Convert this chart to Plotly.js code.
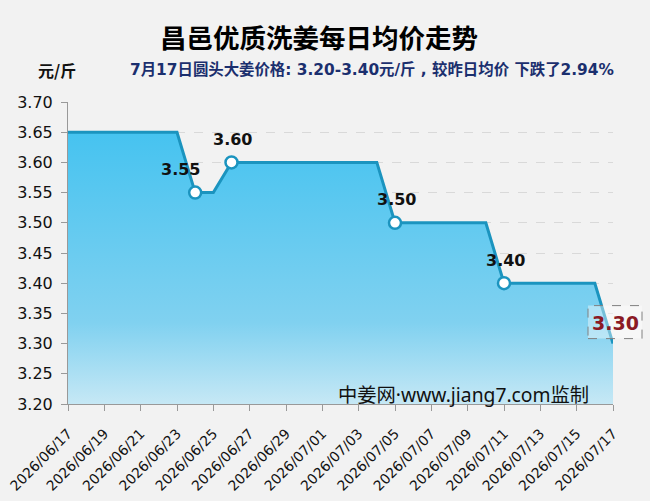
<!DOCTYPE html>
<html><head><meta charset="utf-8">
<script src="https://cdn.plot.ly/plotly-3.0.1.min.js"></script>
<style>html,body{margin:0;padding:0;background:#f2f2f2;}#chart{width:650px;height:501px;}</style>
</head><body><div id="chart"></div>
<script>
const dates = ['2026-06-17','2026-06-18','2026-06-19','2026-06-20','2026-06-21','2026-06-22','2026-06-23','2026-06-24','2026-06-25','2026-06-26','2026-06-27','2026-06-28','2026-06-29','2026-06-30','2026-07-01','2026-07-02','2026-07-03','2026-07-04','2026-07-05','2026-07-06','2026-07-07','2026-07-08','2026-07-09','2026-07-10','2026-07-11','2026-07-12','2026-07-13','2026-07-14','2026-07-15','2026-07-16','2026-07-17'];
const prices = [3.65,3.65,3.65,3.65,3.65,3.65,3.65,3.55,3.55,3.60,3.60,3.60,3.60,3.60,3.60,3.60,3.60,3.60,3.50,3.50,3.50,3.50,3.50,3.50,3.40,3.40,3.40,3.40,3.40,3.40,3.30];
const titleText = '昌邑优质洗姜每日均价走势';
const unitText = '元/斤';
const subtitleText = '7月17日圆头大姜价格: 3.20-3.40元/斤 , 较昨日均价 下跌了2.94%';
const watermarkText = '中姜网·www.jiang7.com监制';

const n = prices.length;
const mx = [], my = [];
for (let i = 1; i < n - 1; i++) {
  if (prices[i] !== prices[i-1]) { mx.push(dates[i]); my.push(prices[i]); }
}

const cjk = '"Noto Sans CJK SC", "DejaVu Sans", sans-serif';
const latinFirst = '"DejaVu Sans", "Noto Sans CJK SC", sans-serif';
const annotations = [];
mx.forEach((d, i) => {
  const dip = i === 0;
  annotations.push({x: d, y: my[i], xref: 'x', yref: 'y', text: my[i].toFixed(2), showarrow: false,
    yshift: 23, xshift: dip ? -15 : 1,
    font: {family: '"DejaVu Sans", sans-serif', size: 16, color: '#111', weight: 'bold'}});
});
annotations.push({x: dates[n-1], y: prices[n-1], xref: 'x', yref: 'y', text: prices[n-1].toFixed(2), showarrow: false,
  xshift: 2, yshift: 21,
  font: {family: '"DejaVu Sans", sans-serif', size: 19, color: '#8b1a24', weight: 'bold'}});

const L = 68, R = 37, T = 102, B = 97, W = 650, H = 501;
function pxAnn(px, py, text, font) {
  annotations.push({x: (px - L) / (W - L - R), y: 1 - (py - T) / (H - T - B), xref: 'paper', yref: 'paper',
    xanchor: 'center', yanchor: 'middle', text: text, showarrow: false, font: font});
}
pxAnn(319, 36, titleText, {family: cjk, size: 26.5, color: '#000', weight: 'bold'});
pxAnn(57, 70, unitText, {family: cjk, size: 16, color: '#111', weight: 'bold'});
pxAnn(372, 70, subtitleText, {family: latinFirst, size: 15.4, color: '#1b2f6e', weight: 'bold'});
pxAnn(463, 394, watermarkText, {family: '"Noto Sans", "Noto Sans CJK SC", sans-serif', size: 19.3, color: '#111'});

const traces = [
  {x: dates, y: prices, type: 'scatter', mode: 'lines', fill: 'tozeroy',
   line: {color: '#1b94bf', width: 3},
   fillgradient: {type: 'vertical', start: 3.2, stop: 3.65,
     colorscale: [[0, '#c6e8f5'], [0.3, '#80d1f0'], [1, '#46c3f0']]},
   hoverinfo: 'skip'},
  {x: mx, y: my, type: 'scatter', mode: 'markers',
   marker: {size: 12, color: '#ffffff', line: {color: '#1b94bf', width: 2.5}}, hoverinfo: 'skip'}
];

// dashed box around the latest-value label: anchored at the right end of the x range (paper x = 1, i.e. last date)
const shapes = [
  {type: 'rect', xref: 'paper', yref: 'y', xsizemode: 'pixel', ysizemode: 'pixel',
   xanchor: 1, yanchor: prices[n-1], x0: -25, x1: 29, y0: 5, y1: 38,
   fillcolor: 'rgba(255,255,255,0.4)', line: {color: '#808080', width: 1, dash: 'dash'}, layer: 'above'}
];

const layout = {
  width: 650, height: 501, paper_bgcolor: '#f2f2f2', plot_bgcolor: '#f2f2f2',
  margin: {l: L, r: R, t: T, b: B}, showlegend: false,
  font: {family: '"DejaVu Sans", sans-serif', color: '#000'},
  xaxis: {type: 'date', range: ['2026-06-17', '2026-07-17'], tick0: '2026-06-17', dtick: 2 * 86400000,
    tickformat: '%Y/%m/%d', tickangle: -45, showgrid: false, showline: true, linecolor: '#999', linewidth: 1,
    ticks: 'outside', ticklen: 6, tickcolor: '#999', tickfont: {size: 14, color: '#111'}, zeroline: false,
    ticklabelstandoff: 9},
  yaxis: {range: [3.2, 3.7], dtick: 0.05, tick0: 3.2, tickformat: '.2f', showgrid: true, gridcolor: '#d9d9d9',
    griddash: 'dash', showline: true, linecolor: '#999', linewidth: 1, ticks: 'outside', ticklen: 6,
    tickcolor: '#999', tickfont: {size: 16, color: '#111'}, zeroline: false, ticklabelstandoff: 5},
  shapes: shapes,
  annotations: annotations
};
Plotly.newPlot('chart', traces, layout, {displayModeBar: false, staticPlot: true});
</script></body></html>
